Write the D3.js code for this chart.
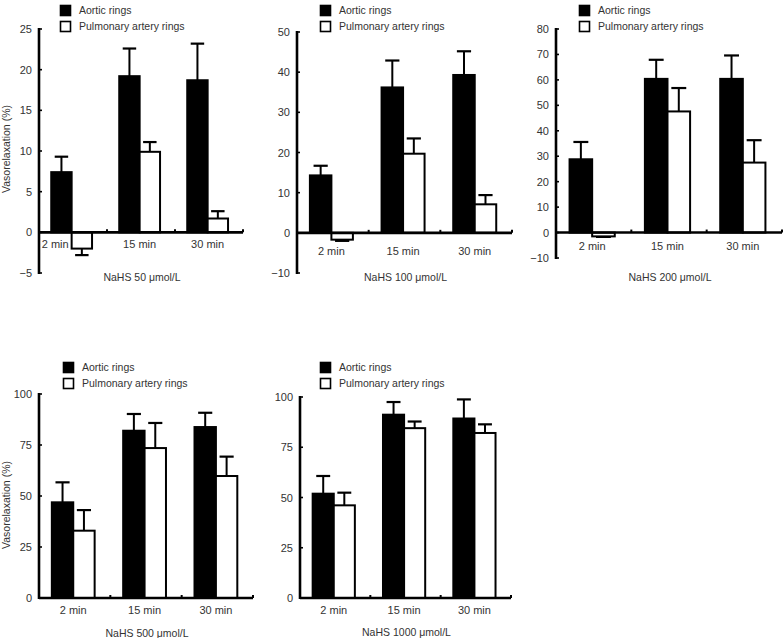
<!DOCTYPE html>
<html><head><meta charset="utf-8">
<script src="https://cdn.jsdelivr.net/npm/d3@7"></script>
<style>body{margin:0;background:#fff}svg{display:block}text{font-family:"Liberation Sans",Arial,sans-serif;fill:#333}</style>
</head><body>
<svg id="c" width="784" height="638"></svg>
<script>
const categories = ["2 min", "15 min", "30 min"];
const seriesNames = ["Aortic rings", "Pulmonary artery rings"];
const panelTitles = ["NaHS 50 μmol/L", "NaHS 100 μmol/L", "NaHS 200 μmol/L", "NaHS 500 μmol/L", "NaHS 1000 μmol/L"];
const yLabel = "Vasorelaxation (%)";

const aortic50 = [7.4, 19.2, 18.7];      const aortic50Err = [1.9, 3.4, 4.5];
const pulm50 = [-2.0, 9.9, 1.7];          const pulm50Err = [0.8, 1.2, 0.9];
const aortic100 = [14.3, 36.2, 39.3];     const aortic100Err = [2.4, 6.7, 5.9];
const pulm100 = [-1.7, 19.7, 7.1];        const pulm100Err = [0.3, 3.8, 2.3];
const aortic200 = [28.8, 60.4, 60.4];     const aortic200Err = [6.8, 7.5, 9.2];
const pulm200 = [-1.5, 47.6, 27.5];       const pulm200Err = [0.2, 9.2, 8.8];
const aortic500 = [46.9, 82.0, 83.8];     const aortic500Err = [9.8, 8.2, 7.0];
const pulm500 = [33.0, 73.5, 59.8];       const pulm500Err = [10.1, 12.3, 9.5];
const aortic1000 = [51.9, 91.2, 89.3];    const aortic1000Err = [8.8, 6.3, 9.5];
const pulm1000 = [46.1, 84.5, 82.1];      const pulm1000Err = [6.3, 3.3, 4.3];

const yTicks50 = [-5, 0, 5, 10, 15, 20, 25];
const yTicks100 = [-10, 0, 10, 20, 30, 40, 50];
const yTicks200 = [-10, 0, 10, 20, 30, 40, 50, 60, 70, 80];
const yTicks500 = [0, 25, 50, 75, 100];
const yTicks1000 = [0, 25, 50, 75, 100];

const panels = [
  {title: panelTitles[0], a: aortic50, ae: aortic50Err, p: pulm50, pe: pulm50Err, ticks: yTicks50,
   x0: 39, x1: 243, yT: 29, yB: 273, catDy: 12, titleY: 277, legX: 60, legY: 5, ylab: true, ylabY: 149, firstLeft: true},
  {title: panelTitles[1], a: aortic100, ae: aortic100Err, p: pulm100, pe: pulm100Err, ticks: yTicks100,
   x0: 297, x1: 512, yT: 32, yB: 273, catDy: 18, titleY: 277, legX: 320, legY: 5},
  {title: panelTitles[2], a: aortic200, ae: aortic200Err, p: pulm200, pe: pulm200Err, ticks: yTicks200,
   x0: 556, x1: 782, yT: 29, yB: 258, catDy: 14, titleY: 277, legX: 579, legY: 5},
  {title: panelTitles[3], a: aortic500, ae: aortic500Err, p: pulm500, pe: pulm500Err, ticks: yTicks500,
   x0: 39, x1: 253, yT: 394, yB: 598, catDy: 12, titleY: 633, legX: 63, legY: 362, ylab: true, ylabY: 505},
  {title: panelTitles[4], a: aortic1000, ae: aortic1000Err, p: pulm1000, pe: pulm1000Err, ticks: yTicks1000,
   x0: 300, x1: 511, yT: 397, yB: 598, catDy: 12, titleY: 632, legX: 320, legY: 362}
];

const svg = d3.select("#c");

panels.forEach(P => {
  const g = svg.append("g");
  const y = d3.scaleLinear().domain(d3.extent(P.ticks)).range([P.yB, P.yT]);
  const x = d3.scaleBand().domain(categories).range([P.x0, P.x1]).padding(0);
  const bw = x.bandwidth();
  const xs = d3.scaleBand().domain(seriesNames).range([bw * 0.18, bw * 0.78]).padding(0);
  const sw = xs.bandwidth();
  const y0 = y(0);

  const rows = [];
  categories.forEach((c, i) => {
    rows.push({c, s: seriesNames[0], v: P.a[i], e: P.ae[i], fill: "#000"});
    rows.push({c, s: seriesNames[1], v: P.p[i], e: P.pe[i], fill: "#fff"});
  });

  // error bars
  rows.forEach(r => {
    const cx = x(r.c) + xs(r.s) + sw / 2;
    const tip = r.v >= 0 ? r.v + r.e : r.v - r.e;
    g.append("line").attr("x1", cx).attr("x2", cx).attr("y1", y(r.v)).attr("y2", y(tip))
      .attr("stroke", "#000").attr("stroke-width", 2);
    g.append("line").attr("x1", cx - sw * 0.33).attr("x2", cx + sw * 0.33).attr("y1", y(tip)).attr("y2", y(tip))
      .attr("stroke", "#000").attr("stroke-width", 2.2);
  });

  g.selectAll("rect.bar").data(rows).join("rect").attr("class", "bar")
    .attr("x", d => x(d.c) + xs(d.s))
    .attr("width", sw)
    .attr("y", d => Math.min(y(d.v), y0))
    .attr("height", d => Math.abs(y(d.v) - y0))
    .attr("fill", d => d.fill)
    .attr("stroke", "#000").attr("stroke-width", 2);

  // y axis
  const ya = d3.axisLeft(y).tickValues(P.ticks).tickSize(0).tickPadding(7).tickFormat(d3.format("d"));
  const yg = g.append("g").attr("transform", `translate(${P.x0},0)`).call(ya);
  yg.select(".domain").remove();
  yg.selectAll("text").attr("font-size", 11).attr("fill", "#333").style("font-family", "Liberation Sans, Arial, sans-serif");
  g.append("line").attr("x1", P.x0).attr("x2", P.x0).attr("y1", P.yT - 1).attr("y2", P.yB + 1)
    .attr("stroke", "#000").attr("stroke-width", 2.6);
  P.ticks.forEach(t => {
    g.append("line").attr("x1", P.x0).attr("x2", P.x0 + 3).attr("y1", y(t)).attr("y2", y(t))
      .attr("stroke", "#000").attr("stroke-width", 1.6);
  });

  // x axis (zero line)
  g.append("line").attr("x1", P.x0).attr("x2", P.x1).attr("y1", y0).attr("y2", y0)
    .attr("stroke", "#000").attr("stroke-width", 2.6);
  categories.forEach((c, i) => {
    const xe = x(c) + bw;
    g.append("line").attr("x1", xe).attr("x2", xe).attr("y1", y0).attr("y2", y0 - 3)
      .attr("stroke", "#000").attr("stroke-width", 2);
    const t = g.append("text").attr("y", y0 + P.catDy).attr("dy", "0.35em").attr("font-size", 11).text(c);
    if (P.firstLeft && i === 0) {
      t.attr("x", x(c) + xs(seriesNames[1]) - 3).attr("text-anchor", "end");
    } else {
      t.attr("x", x(c) + bw * 0.48).attr("text-anchor", "middle");
    }
  });

  // title
  g.append("text").attr("x", (P.x0 + P.x1) / 2 + 1).attr("y", P.titleY).attr("dy", "0.35em")
    .attr("text-anchor", "middle").attr("font-size", 10.5).text(P.title);

  // y label
  if (P.ylab) {
    g.append("text").attr("transform", `translate(6,${P.ylabY}) rotate(-90)`).attr("dy", "0.35em")
      .attr("text-anchor", "middle").attr("font-size", 10.5).text(yLabel);
  }

  // legend
  const leg = g.append("g").attr("transform", `translate(${P.legX},${P.legY})`);
  seriesNames.forEach((s, i) => {
    leg.append("rect").attr("x", 0.5).attr("y", i * 16 + 0.5).attr("width", 10).attr("height", 10)
      .attr("fill", i === 0 ? "#000" : "#fff").attr("stroke", "#000").attr("stroke-width", 1.6);
    leg.append("text").attr("x", 19).attr("y", i * 16 + 5.5).attr("dy", "0.35em")
      .attr("font-size", 10.5).text(s);
  });
});
</script>
</body></html>
